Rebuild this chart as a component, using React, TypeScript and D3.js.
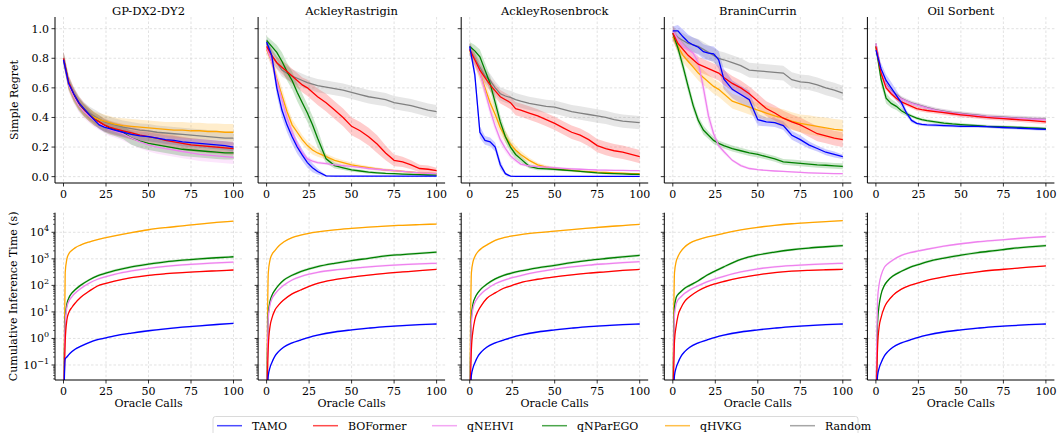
import React from 'react';
import * as d3 from 'd3';

const METHODS = ['TAMO', 'BOFormer', 'qNEHVI', 'qNParEGO', 'qHVKG', 'Random'];
const COLORS = ['#0000ff', '#ff0000', '#ee82ee', '#008000', '#ffa500', '#808080'];
const PROBLEMS = ['GP-DX2-DY2', 'AckleyRastrigin', 'AckleyRosenbrock', 'BraninCurrin', 'Oil Sorbent'];
const X_TICKS = [0, 25, 50, 75, 100];
const REGRET_TICKS = [0, 0.2, 0.4, 0.6, 0.8, 1.0];
const TIME_EXPONENTS = [-1, 0, 1, 2, 3, 4];

// Oracle-call grids
const XT = [0, 3, 6, 9, 12, 15, 18, 21, 24, 27, 30, 35, 40, 45, 50, 55, 60, 65, 70, 75, 80, 85, 90, 95, 100];
const XB = [0, 1, 2, 3, 5, 7, 10, 15, 20, 25, 30, 40, 50, 60, 70, 80, 90, 100];

// ---------- Simple regret (mean) per problem, method order as METHODS ----------
const GP_REGRET = [
  [0.79, 0.63, 0.56, 0.5, 0.46, 0.42, 0.385, 0.35, 0.335, 0.325, 0.315, 0.3, 0.285, 0.275, 0.27, 0.26, 0.25, 0.245, 0.235, 0.23, 0.225, 0.22, 0.215, 0.21, 0.2],
  [0.8, 0.64, 0.56, 0.5, 0.455, 0.42, 0.39, 0.37, 0.35, 0.335, 0.325, 0.31, 0.295, 0.28, 0.27, 0.26, 0.245, 0.235, 0.225, 0.215, 0.21, 0.205, 0.2, 0.195, 0.19],
  [0.8, 0.62, 0.54, 0.48, 0.44, 0.41, 0.38, 0.36, 0.34, 0.32, 0.31, 0.29, 0.26, 0.235, 0.215, 0.2, 0.19, 0.18, 0.17, 0.16, 0.15, 0.145, 0.14, 0.135, 0.13],
  [0.8, 0.63, 0.55, 0.49, 0.45, 0.42, 0.39, 0.37, 0.345, 0.33, 0.32, 0.3, 0.26, 0.24, 0.225, 0.215, 0.205, 0.195, 0.185, 0.18, 0.175, 0.17, 0.165, 0.16, 0.16],
  [0.8, 0.62, 0.54, 0.49, 0.45, 0.42, 0.4, 0.385, 0.375, 0.365, 0.355, 0.345, 0.34, 0.335, 0.33, 0.325, 0.32, 0.315, 0.315, 0.31, 0.31, 0.305, 0.305, 0.3, 0.3],
  [0.8, 0.64, 0.56, 0.5, 0.46, 0.43, 0.41, 0.39, 0.37, 0.36, 0.35, 0.335, 0.325, 0.315, 0.31, 0.3, 0.295, 0.29, 0.285, 0.28, 0.275, 0.27, 0.265, 0.26, 0.26],
];
const GP_SPREAD = [
  0.03, 0.045, 0.045, 0.045,
  [0.03, 0.035, 0.035, 0.04, 0.04, 0.04, 0.04, 0.045, 0.045, 0.045, 0.045, 0.05, 0.05, 0.05, 0.05, 0.05, 0.05, 0.055, 0.055, 0.055, 0.055, 0.055, 0.055, 0.055, 0.055],
  0.045,
];

const RAST_REGRET = [
  [0.91, 0.82, 0.6, 0.45, 0.35, 0.27, 0.2, 0.145, 0.095, 0.06, 0.035, 0.005, 0.003, 0.003, 0.003, 0.003, 0.003, 0.003, 0.003, 0.003, 0.003, 0.003, 0.003, 0.003, 0.003],
  [0.88, 0.82, 0.77, 0.74, 0.71, 0.68, 0.65, 0.62, 0.6, 0.57, 0.54, 0.5, 0.45, 0.4, 0.34, 0.31, 0.27, 0.22, 0.16, 0.11, 0.1, 0.08, 0.055, 0.05, 0.04],
  [0.87, 0.78, 0.65, 0.52, 0.4, 0.3, 0.22, 0.16, 0.12, 0.105, 0.095, 0.088, 0.08, 0.075, 0.07, 0.062, 0.055, 0.05, 0.045, 0.04, 0.035, 0.03, 0.026, 0.023, 0.02],
  [0.92, 0.88, 0.84, 0.78, 0.71, 0.65, 0.57, 0.5, 0.43, 0.35, 0.26, 0.12, 0.075, 0.06, 0.045, 0.038, 0.03, 0.026, 0.022, 0.02, 0.017, 0.015, 0.013, 0.011, 0.01],
  [0.86, 0.78, 0.66, 0.55, 0.44, 0.35, 0.3, 0.25, 0.21, 0.18, 0.16, 0.135, 0.11, 0.095, 0.08, 0.07, 0.06, 0.052, 0.045, 0.04, 0.035, 0.03, 0.026, 0.023, 0.02],
  [0.9, 0.82, 0.77, 0.72, 0.7, 0.68, 0.665, 0.65, 0.635, 0.625, 0.615, 0.605, 0.595, 0.585, 0.57, 0.555, 0.54, 0.53, 0.52, 0.5, 0.49, 0.48, 0.465, 0.45, 0.44],
];
const RAST_SPREAD = [
  [0.02, 0.04, 0.05, 0.05, 0.05, 0.05, 0.045, 0.04, 0.035, 0.03, 0.02, 0.005, 0.002, 0.002, 0.002, 0.002, 0.002, 0.002, 0.002, 0.002, 0.002, 0.002, 0.002, 0.002, 0.002],
  [0.03, 0.04, 0.04, 0.045, 0.05, 0.05, 0.05, 0.05, 0.055, 0.055, 0.055, 0.06, 0.06, 0.06, 0.06, 0.06, 0.06, 0.06, 0.05, 0.04, 0.035, 0.03, 0.025, 0.025, 0.02],
  [0.03, 0.04, 0.04, 0.04, 0.035, 0.03, 0.025, 0.02, 0.015, 0.012, 0.01, 0.01, 0.01, 0.01, 0.01, 0.01, 0.01, 0.01, 0.008, 0.008, 0.008, 0.007, 0.007, 0.006, 0.006],
  [0.03, 0.04, 0.05, 0.06, 0.06, 0.06, 0.06, 0.06, 0.06, 0.06, 0.06, 0.03, 0.02, 0.015, 0.012, 0.01, 0.01, 0.008, 0.008, 0.007, 0.006, 0.006, 0.005, 0.005, 0.005],
  [0.03, 0.04, 0.05, 0.05, 0.045, 0.04, 0.035, 0.03, 0.03, 0.03, 0.025, 0.02, 0.02, 0.015, 0.015, 0.012, 0.012, 0.01, 0.01, 0.01, 0.008, 0.008, 0.007, 0.006, 0.006],
  0.045,
];

const ROSEN_REGRET = [
  [0.88, 0.69, 0.3, 0.245, 0.235, 0.2, 0.08, 0.02, 0.003, 0.002, 0.002, 0.002, 0.002, 0.002, 0.002, 0.002, 0.002, 0.002, 0.002, 0.002, 0.002, 0.002, 0.002, 0.002, 0.002],
  [0.86, 0.79, 0.72, 0.67, 0.62, 0.58, 0.54, 0.52, 0.5, 0.46, 0.45, 0.43, 0.41, 0.385, 0.36, 0.33, 0.3, 0.28, 0.25, 0.21, 0.19, 0.175, 0.165, 0.15, 0.135],
  [0.86, 0.79, 0.7, 0.58, 0.45, 0.34, 0.25, 0.19, 0.14, 0.11, 0.085, 0.072, 0.068, 0.064, 0.06, 0.056, 0.053, 0.05, 0.048, 0.045, 0.044, 0.043, 0.042, 0.041, 0.04],
  [0.88, 0.85, 0.81, 0.72, 0.63, 0.5, 0.37, 0.27, 0.2, 0.15, 0.12, 0.07, 0.056, 0.053, 0.05, 0.045, 0.04, 0.035, 0.03, 0.025, 0.022, 0.02, 0.018, 0.016, 0.015],
  [0.85, 0.79, 0.7, 0.6, 0.5, 0.42, 0.33, 0.27, 0.22, 0.18, 0.15, 0.11, 0.08, 0.065, 0.055, 0.048, 0.042, 0.037, 0.034, 0.03, 0.028, 0.025, 0.023, 0.021, 0.02],
  [0.86, 0.8, 0.74, 0.68, 0.65, 0.6, 0.56, 0.545, 0.535, 0.52, 0.51, 0.495, 0.485, 0.475, 0.47, 0.455, 0.44, 0.43, 0.42, 0.41, 0.4, 0.385, 0.375, 0.37, 0.365],
];
const ROSEN_SPREAD = [
  [0.02, 0.04, 0.04, 0.03, 0.03, 0.03, 0.03, 0.01, 0.005, 0.002, 0.002, 0.002, 0.002, 0.002, 0.002, 0.002, 0.002, 0.002, 0.002, 0.002, 0.002, 0.002, 0.002, 0.002, 0.002],
  0.045,
  [0.03, 0.04, 0.045, 0.045, 0.04, 0.035, 0.03, 0.025, 0.02, 0.015, 0.012, 0.01, 0.01, 0.008, 0.008, 0.008, 0.007, 0.007, 0.006, 0.006, 0.006, 0.006, 0.005, 0.005, 0.005],
  [0.03, 0.04, 0.05, 0.05, 0.05, 0.05, 0.045, 0.04, 0.035, 0.03, 0.025, 0.015, 0.012, 0.01, 0.01, 0.008, 0.008, 0.007, 0.007, 0.006, 0.006, 0.005, 0.005, 0.005, 0.005],
  [0.03, 0.04, 0.05, 0.05, 0.05, 0.05, 0.045, 0.04, 0.035, 0.03, 0.025, 0.018, 0.014, 0.012, 0.01, 0.009, 0.008, 0.007, 0.007, 0.006, 0.006, 0.005, 0.005, 0.005, 0.005],
  0.045,
];

const BRANIN_REGRET = [
  [0.985, 0.985, 0.945, 0.91, 0.89, 0.875, 0.845, 0.835, 0.83, 0.79, 0.66, 0.59, 0.555, 0.52, 0.385, 0.37, 0.365, 0.345, 0.28, 0.25, 0.215, 0.19, 0.165, 0.15, 0.135],
  [0.97, 0.9, 0.86, 0.82, 0.79, 0.76, 0.745, 0.73, 0.715, 0.7, 0.67, 0.63, 0.6, 0.56, 0.51, 0.46, 0.43, 0.395, 0.37, 0.35, 0.32, 0.29, 0.275, 0.26, 0.25],
  [0.98, 0.93, 0.88, 0.86, 0.835, 0.77, 0.6, 0.41, 0.29, 0.21, 0.17, 0.11, 0.075, 0.055, 0.047, 0.042, 0.038, 0.035, 0.032, 0.029, 0.026, 0.024, 0.022, 0.021, 0.02],
  [0.97, 0.87, 0.745, 0.61, 0.48, 0.38, 0.315, 0.28, 0.245, 0.225, 0.21, 0.19, 0.175, 0.16, 0.15, 0.135, 0.12, 0.1, 0.095, 0.09, 0.085, 0.08, 0.077, 0.073, 0.07],
  [0.945, 0.88, 0.82, 0.78, 0.74, 0.7, 0.67, 0.64, 0.61, 0.59, 0.56, 0.51, 0.49, 0.47, 0.45, 0.43, 0.41, 0.395, 0.375, 0.36, 0.35, 0.34, 0.33, 0.32, 0.315],
  [0.97, 0.94, 0.92, 0.9, 0.89, 0.88, 0.86, 0.84, 0.82, 0.8, 0.79, 0.77, 0.75, 0.72, 0.715, 0.71, 0.705, 0.7, 0.655, 0.64, 0.635, 0.62, 0.6, 0.585, 0.565],
];
const BRANIN_SPREAD = [
  [0.03, 0.04, 0.05, 0.05, 0.05, 0.05, 0.05, 0.05, 0.05, 0.06, 0.07, 0.06, 0.06, 0.06, 0.04, 0.03, 0.03, 0.03, 0.03, 0.03, 0.025, 0.02, 0.02, 0.02, 0.015],
  0.05,
  [0.02, 0.03, 0.03, 0.03, 0.03, 0.05, 0.06, 0.05, 0.03, 0.02, 0.015, 0.01, 0.01, 0.008, 0.006, 0.005, 0.005, 0.005, 0.005, 0.005, 0.005, 0.005, 0.005, 0.005, 0.005],
  [0.03, 0.04, 0.04, 0.04, 0.035, 0.03, 0.03, 0.025, 0.025, 0.02, 0.02, 0.02, 0.02, 0.02, 0.02, 0.02, 0.02, 0.02, 0.02, 0.02, 0.02, 0.02, 0.02, 0.02, 0.02],
  [0.03, 0.04, 0.05, 0.05, 0.05, 0.05, 0.05, 0.05, 0.05, 0.05, 0.05, 0.05, 0.05, 0.05, 0.05, 0.05, 0.055, 0.06, 0.06, 0.06, 0.065, 0.065, 0.07, 0.07, 0.07],
  0.05,
];

const OIL_REGRET = [
  [0.855, 0.73, 0.65, 0.6, 0.55, 0.5, 0.43, 0.38, 0.36, 0.353, 0.35, 0.348, 0.345, 0.343, 0.34, 0.34, 0.34, 0.338, 0.335, 0.332, 0.33, 0.327, 0.325, 0.322, 0.32],
  [0.88, 0.7, 0.6, 0.56, 0.53, 0.505, 0.49, 0.475, 0.46, 0.453, 0.447, 0.44, 0.432, 0.425, 0.418, 0.412, 0.406, 0.4, 0.396, 0.392, 0.388, 0.384, 0.38, 0.375, 0.37],
  [0.9, 0.72, 0.62, 0.575, 0.55, 0.525, 0.51, 0.495, 0.485, 0.475, 0.465, 0.45, 0.44, 0.43, 0.424, 0.418, 0.412, 0.405, 0.402, 0.399, 0.396, 0.393, 0.39, 0.388, 0.385],
  [0.88, 0.66, 0.53, 0.495, 0.475, 0.445, 0.425, 0.41, 0.395, 0.385, 0.378, 0.37, 0.362, 0.356, 0.352, 0.348, 0.344, 0.34, 0.338, 0.336, 0.334, 0.332, 0.33, 0.327, 0.325],
  null,
  [0.9, 0.72, 0.625, 0.58, 0.555, 0.53, 0.513, 0.498, 0.488, 0.478, 0.468, 0.453, 0.443, 0.433, 0.427, 0.421, 0.415, 0.408, 0.405, 0.402, 0.399, 0.396, 0.393, 0.391, 0.388],
];
const OIL_SPREAD = [
  [0.03, 0.04, 0.04, 0.04, 0.035, 0.03, 0.02, 0.015, 0.01, 0.01, 0.01, 0.01, 0.01, 0.01, 0.01, 0.01, 0.01, 0.01, 0.01, 0.01, 0.01, 0.01, 0.01, 0.01, 0.01],
  0.015,
  0.015,
  [0.03, 0.04, 0.035, 0.03, 0.025, 0.02, 0.015, 0.01, 0.01, 0.01, 0.01, 0.01, 0.01, 0.01, 0.01, 0.01, 0.01, 0.01, 0.01, 0.01, 0.01, 0.01, 0.01, 0.01, 0.01],
  0,
  0.015,
];

// ---------- Cumulative inference time (s) ----------
const GP_TIME = [
  [0.001, 0.17, 0.2, 0.24, 0.32, 0.4, 0.5, 0.7, 0.9, 1.05, 1.25, 1.6, 1.95, 2.3, 2.65, 3.0, 3.35, 3.7],
  [0.001, 0.8, 5, 9, 15, 22, 35, 60, 95, 120, 145, 195, 240, 275, 305, 330, 355, 380],
  [0.001, 4, 15, 24, 38, 52, 75, 120, 170, 215, 260, 350, 440, 520, 590, 650, 700, 750],
  [0.001, 5, 20, 32, 52, 70, 100, 160, 230, 290, 360, 500, 630, 770, 890, 1000, 1100, 1200],
  [0.001, 300, 1000, 1500, 2100, 2650, 3300, 4300, 5300, 6300, 7400, 9800, 12500, 15000, 17500, 20500, 23500, 26500],
  null,
];
const RAST_TIME = [
  [0.001, 0.04, 0.08, 0.12, 0.22, 0.32, 0.47, 0.68, 0.87, 1.1, 1.33, 1.75, 2.1, 2.45, 2.8, 3.05, 3.3, 3.5],
  [0.001, 0.5, 2.8, 5.5, 12, 18, 28, 48, 67, 92, 120, 165, 205, 245, 285, 320, 360, 400],
  [0.001, 6, 18, 30, 48, 68, 100, 160, 215, 265, 310, 380, 440, 500, 560, 610, 650, 680],
  [0.001, 8, 25, 40, 68, 100, 155, 240, 330, 420, 510, 680, 860, 1050, 1300, 1450, 1620, 1780],
  [0.001, 300, 900, 1400, 2100, 3000, 4300, 6300, 7800, 9200, 10300, 12300, 14000, 15700, 17200, 18400, 19500, 20500],
  null,
];
const ROSEN_TIME = [
  [0.001, 0.04, 0.08, 0.12, 0.22, 0.32, 0.47, 0.68, 0.87, 1.1, 1.33, 1.75, 2.1, 2.45, 2.8, 3.05, 3.3, 3.5],
  [0.001, 0.4, 2.1, 5, 11, 18, 32, 52, 78, 100, 128, 170, 210, 250, 290, 325, 365, 400],
  [0.001, 4, 14, 22, 36, 50, 72, 115, 155, 195, 235, 320, 410, 500, 580, 650, 720, 780],
  [0.001, 6, 21, 33, 55, 77, 110, 175, 240, 295, 350, 460, 570, 720, 880, 1030, 1190, 1350],
  [0.001, 300, 800, 1200, 1900, 2500, 3300, 5000, 6300, 7300, 8200, 9700, 11000, 12700, 14400, 16200, 18000, 20000],
  null,
];
const BRANIN_TIME = [
  [0.001, 0.04, 0.08, 0.12, 0.22, 0.32, 0.47, 0.68, 0.87, 1.1, 1.33, 1.75, 2.1, 2.45, 2.8, 3.05, 3.3, 3.5],
  [0.001, 0.8, 3, 7, 15, 25, 38, 63, 90, 115, 140, 195, 250, 305, 345, 370, 388, 400],
  [0.001, 8, 20, 28, 38, 50, 68, 98, 135, 175, 220, 320, 420, 500, 560, 610, 650, 680],
  [0.001, 15, 35, 45, 60, 78, 100, 150, 240, 350, 500, 950, 1400, 1800, 2200, 2550, 2850, 3150],
  [0.001, 300, 800, 1200, 2000, 2800, 3900, 5300, 6600, 7700, 9200, 12300, 15400, 18400, 21000, 23200, 25400, 27500],
  null,
];
const OIL_TIME = [
  [0.001, 0.04, 0.08, 0.12, 0.22, 0.32, 0.47, 0.68, 0.87, 1.1, 1.33, 1.75, 2.1, 2.45, 2.8, 3.05, 3.3, 3.5],
  [0.001, 0.5, 3, 6, 15, 25, 42, 72, 100, 125, 155, 210, 265, 325, 380, 425, 485, 540],
  [0.001, 30, 120, 230, 480, 650, 900, 1350, 1700, 1980, 2300, 3000, 3700, 4400, 5000, 5600, 6300, 6900],
  [0.001, 4, 20, 45, 100, 150, 225, 340, 480, 610, 770, 1070, 1380, 1720, 2050, 2450, 2800, 3150],
  null,
  null,
];
// multiplicative std band per method on the time plots
const TIME_BAND = [1.08, 1.06, 1.1, 1.12, 1.06, 1.0];

const REGRET_DATA = [GP_REGRET, RAST_REGRET, ROSEN_REGRET, BRANIN_REGRET, OIL_REGRET];
const REGRET_SPREAD = [GP_SPREAD, RAST_SPREAD, ROSEN_SPREAD, BRANIN_SPREAD, OIL_SPREAD];
const TIME_DATA = [GP_TIME, RAST_TIME, ROSEN_TIME, BRANIN_TIME, OIL_TIME];

// ---------- layout ----------
const W = 1058, H = 433;
const COL0 = 55, COL_STEP = 203.1, AX_W = 187;
const TOP_Y0 = 17, TOP_Y1 = 183;
const BOT_Y0 = 212.7, BOT_Y1 = 380;
const FONT = "'DejaVu Serif', 'Liberation Serif', serif";
const DRAW_ORDER = [5, 4, 3, 2, 1, 0];
const LEGEND_X = [217, 313, 432, 542, 665, 790];

const sp = (s: any, i: number) => (Array.isArray(s) ? s[i] : s);

function Panel({ col }: { col: number }) {
  const L = COL0 + col * COL_STEP;
  const x = d3.scaleLinear().domain([-5, 105]).range([L, L + AX_W]);
  const yT = d3.scaleLinear().domain([-0.043, 1.079]).range([TOP_Y1, TOP_Y0]);
  const yB = d3.scaleLog().domain([0.0272, 54800]).range([BOT_Y1, BOT_Y0]);
  const regret = REGRET_DATA[col];
  const spread = REGRET_SPREAD[col];
  const times = TIME_DATA[col];

  const lineT = d3.line<number>().x((_, i) => x(XT[i])).y((v) => yT(v));
  const areaT = (m: number) =>
    d3.area<number>()
      .x((_, i) => x(XT[i]))
      .y0((v, i) => yT(v - sp(spread[m], i)))
      .y1((v, i) => yT(v + sp(spread[m], i)));
  const lineB = d3.line<number>().curve(d3.curveMonotoneX).x((_, i) => x(XB[i])).y((v) => yB(Math.max(v, 1e-4)));
  const areaB = (m: number) =>
    d3.area<number>().curve(d3.curveMonotoneX)
      .x((_, i) => x(XB[i]))
      .y0((v) => yB(Math.max(v / TIME_BAND[m], 1e-4)))
      .y1((v) => yB(Math.max(v * TIME_BAND[m], 1e-4)));

  const minor: number[] = [];
  for (let e = -2; e <= 4; e++) for (let k = 2; k <= 9; k++) {
    const v = k * Math.pow(10, e);
    if (v > 0.0272 && v < 54800) minor.push(v);
  }

  const gridStyle = { stroke: '#cfcfcf', strokeWidth: 0.6, strokeDasharray: '2.5,2' };
  const clipT = `clipT${col}`, clipB = `clipB${col}`;

  return (
    <g>
      <defs>
        <clipPath id={clipT}><rect x={L} y={TOP_Y0} width={AX_W} height={TOP_Y1 - TOP_Y0} /></clipPath>
        <clipPath id={clipB}><rect x={L} y={BOT_Y0} width={AX_W} height={BOT_Y1 - BOT_Y0} /></clipPath>
      </defs>
      <text x={L + AX_W / 2} y={14.5} textAnchor="middle" fontSize={11.5} style={{ fontFamily: FONT }}>{PROBLEMS[col]}</text>

      {X_TICKS.map((t) => <line key={'gx' + t} x1={x(t)} x2={x(t)} y1={TOP_Y0} y2={TOP_Y1} style={gridStyle} />)}
      {REGRET_TICKS.map((t) => <line key={'gy' + t} x1={L} x2={L + AX_W} y1={yT(t)} y2={yT(t)} style={gridStyle} />)}
      <g clipPath={`url(#${clipT})`}>
        {METHODS.map((_, m) => regret[m] && spread[m] !== 0 ? (
          <path key={'a' + m} d={areaT(m)(regret[m] as number[]) || ''} fill={COLORS[m]} fillOpacity={0.2} stroke="none" />
        ) : null)}
        {DRAW_ORDER.map((m) => regret[m] ? (
          <path key={'l' + m} d={lineT(regret[m] as number[]) || ''} fill="none" stroke={COLORS[m]} strokeWidth={1.3} />
        ) : null)}
      </g>
      <line x1={L} x2={L} y1={TOP_Y0} y2={TOP_Y1} stroke="#000" strokeWidth={1} />
      <line x1={L} x2={L + AX_W} y1={TOP_Y1} y2={TOP_Y1} stroke="#000" strokeWidth={1} />
      {X_TICKS.map((t) => (
        <g key={'tx' + t}>
          <line x1={x(t)} x2={x(t)} y1={TOP_Y1} y2={TOP_Y1 + 3.5} stroke="#000" strokeWidth={0.8} />
          <text x={x(t)} y={198} textAnchor="middle" fontSize={11} style={{ fontFamily: FONT }}>{t}</text>
        </g>
      ))}
      {REGRET_TICKS.map((t) => (
        <g key={'ty' + t}>
          <line x1={L - 3.5} x2={L} y1={yT(t)} y2={yT(t)} stroke="#000" strokeWidth={0.8} />
          {col === 0 ? (
            <text x={L - 6} y={yT(t) + 4} textAnchor="end" fontSize={11} style={{ fontFamily: FONT }}>{t.toFixed(1)}</text>
          ) : null}
        </g>
      ))}

      {X_TICKS.map((t) => <line key={'bgx' + t} x1={x(t)} x2={x(t)} y1={BOT_Y0} y2={BOT_Y1} style={gridStyle} />)}
      {TIME_EXPONENTS.map((e) => <line key={'bgy' + e} x1={L} x2={L + AX_W} y1={yB(Math.pow(10, e))} y2={yB(Math.pow(10, e))} style={gridStyle} />)}
      <g clipPath={`url(#${clipB})`}>
        {METHODS.map((_, m) => times[m] ? (
          <path key={'ba' + m} d={areaB(m)(times[m] as number[]) || ''} fill={COLORS[m]} fillOpacity={0.2} stroke="none" />
        ) : null)}
        {DRAW_ORDER.map((m) => times[m] ? (
          <path key={'bl' + m} d={lineB(times[m] as number[]) || ''} fill="none" stroke={COLORS[m]} strokeWidth={1.3} />
        ) : null)}
      </g>
      <line x1={L} x2={L} y1={BOT_Y0} y2={BOT_Y1} stroke="#000" strokeWidth={1} />
      <line x1={L} x2={L + AX_W} y1={BOT_Y1} y2={BOT_Y1} stroke="#000" strokeWidth={1} />
      {X_TICKS.map((t) => (
        <g key={'btx' + t}>
          <line x1={x(t)} x2={x(t)} y1={BOT_Y1} y2={BOT_Y1 + 3.5} stroke="#000" strokeWidth={0.8} />
          <text x={x(t)} y={395} textAnchor="middle" fontSize={11} style={{ fontFamily: FONT }}>{t}</text>
        </g>
      ))}
      {minor.map((v) => <line key={'mn' + v} x1={L - 2} x2={L} y1={yB(v)} y2={yB(v)} stroke="#000" strokeWidth={0.6} />)}
      {TIME_EXPONENTS.map((e) => (
        <g key={'bty' + e}>
          <line x1={L - 3.5} x2={L} y1={yB(Math.pow(10, e))} y2={yB(Math.pow(10, e))} stroke="#000" strokeWidth={0.8} />
          {col === 0 ? (
            <text x={L - 6} y={yB(Math.pow(10, e)) + 4} textAnchor="end" fontSize={11} style={{ fontFamily: FONT }}>
              10<tspan dy={-5} fontSize={8}>{e < 0 ? '\u2212' + Math.abs(e) : String(e)}</tspan>
            </text>
          ) : null}
        </g>
      ))}
      <text x={L + AX_W / 2} y={407} textAnchor="middle" fontSize={11} style={{ fontFamily: FONT }}>Oracle Calls</text>
    </g>
  );
}

export default function App() {
  return (
    <svg width={W} height={H} style={{ position: 'absolute', left: 0, top: 0, display: 'block', background: '#fff' }}>
      <rect x={0} y={0} width={W} height={H} fill="#fff" />
      {PROBLEMS.map((_, c) => <Panel key={c} col={c} />)}
      <text transform={`translate(18,${(TOP_Y0 + TOP_Y1) / 2}) rotate(-90)`} textAnchor="middle" fontSize={11} style={{ fontFamily: FONT }}>Simple Regret</text>
      <text transform={`translate(17,${(BOT_Y0 + BOT_Y1) / 2}) rotate(-90)`} textAnchor="middle" fontSize={11} style={{ fontFamily: FONT }}>Cumulative Inference Time (s)</text>
      <rect x={213} y={416.5} width={645} height={24} rx={2.5} fill="#fff" fillOpacity={0.8} stroke="#d0d0d0" strokeWidth={0.8} />
      {METHODS.map((name, m) => (
        <g key={'lg' + m}>
          <line x1={LEGEND_X[m]} x2={LEGEND_X[m] + 25} y1={425.7} y2={425.7} stroke={COLORS[m]} strokeOpacity={0.7} strokeWidth={1.5} />
          <text x={LEGEND_X[m] + 35} y={430.3} fontSize={11} style={{ fontFamily: FONT }}>{name}</text>
        </g>
      ))}
    </svg>
  );
}
